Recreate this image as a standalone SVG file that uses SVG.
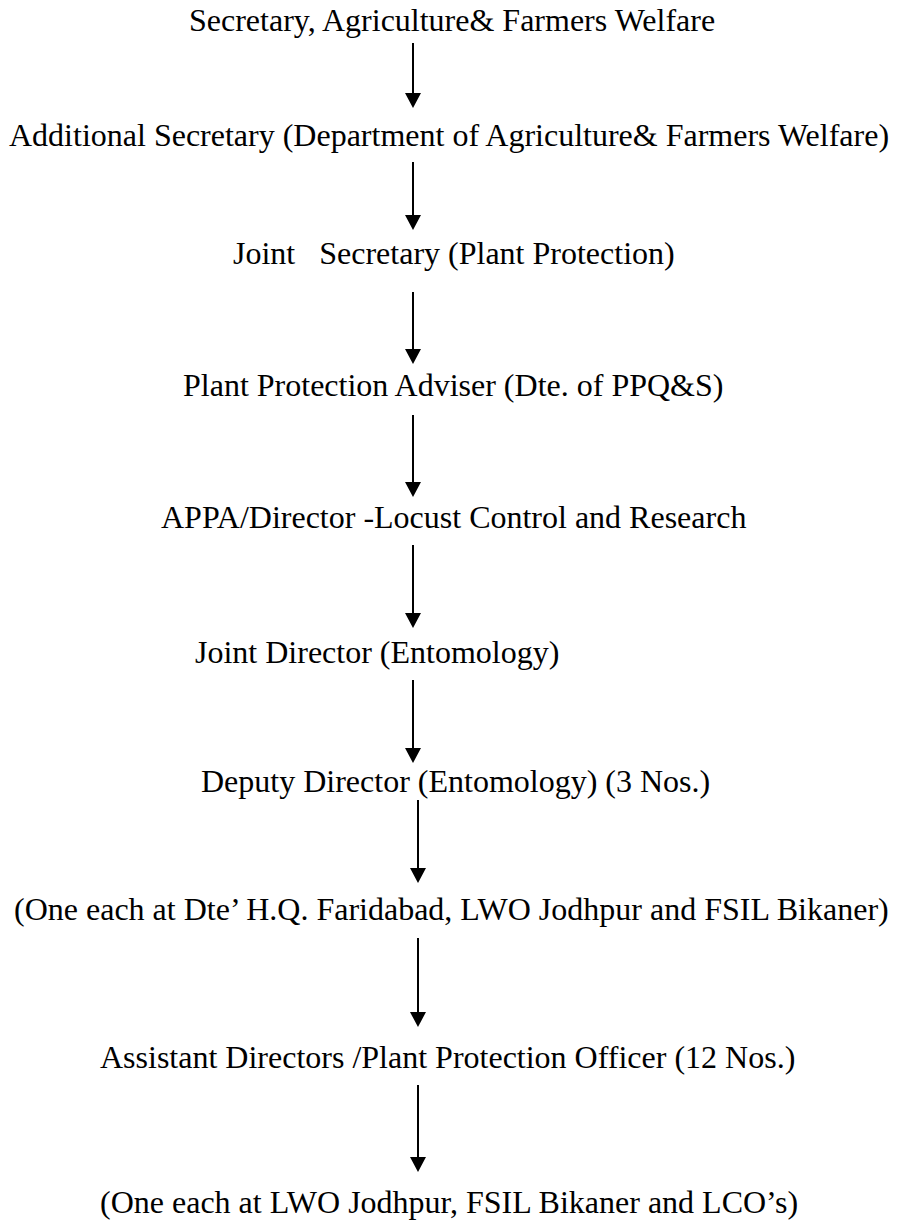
<svg xmlns="http://www.w3.org/2000/svg" width="902" height="1224" viewBox="0 0 902 1224">
<style>
  .t { font-family: "Liberation Serif", "Times New Roman", serif; font-size: 32px; fill: #000; white-space: pre; }
  .c line { stroke: #000; stroke-width: 2; }
</style>
<defs>
  <marker id="ah" markerUnits="userSpaceOnUse" markerWidth="16" markerHeight="16" refX="0" refY="8" orient="auto">
    <path d="M0,0 L15,8 L0,16 Z" fill="#000"/>
  </marker>
</defs>
<rect width="902" height="1224" fill="#fff"/>
<g id="n1"><text class="t" x="189" y="31">Secretary, Agriculture&amp; Farmers Welfare</text></g>
<g id="n2"><text class="t" x="9" y="146">Additional Secretary (Department of Agriculture&amp; Farmers Welfare)</text></g>
<g id="n3"><text class="t" x="233" y="264" xml:space="preserve">Joint   Secretary (Plant Protection)</text></g>
<g id="n4"><text class="t" x="183" y="396">Plant Protection Adviser (Dte. of PPQ&amp;S)</text></g>
<g id="n5"><text class="t" x="161" y="528">APPA/Director -Locust Control and Research</text></g>
<g id="n6"><text class="t" x="195" y="663">Joint Director (Entomology)</text></g>
<g id="n7"><text class="t" x="201" y="792">Deputy Director (Entomology) (3 Nos.)</text></g>
<g id="n8"><text class="t" x="14" y="920">(One each at Dte’ H.Q. Faridabad, LWO Jodhpur and FSIL Bikaner)</text></g>
<g id="n9"><text class="t" x="100" y="1068">Assistant Directors /Plant Protection Officer (12 Nos.)</text></g>
<g id="n10"><text class="t" x="100" y="1213">(One each at LWO Jodhpur, FSIL Bikaner and LCO’s)</text></g>
<g id="connectors" class="c">
  <line x1="413" y1="43" x2="413" y2="93" marker-end="url(#ah)"/>
  <line x1="413" y1="162" x2="413" y2="215" marker-end="url(#ah)"/>
  <line x1="413" y1="292" x2="413" y2="349" marker-end="url(#ah)"/>
  <line x1="413" y1="415" x2="413" y2="482" marker-end="url(#ah)"/>
  <line x1="413" y1="545" x2="413" y2="613" marker-end="url(#ah)"/>
  <line x1="413" y1="680" x2="413" y2="748" marker-end="url(#ah)"/>
  <line x1="418" y1="800" x2="418" y2="868" marker-end="url(#ah)"/>
  <line x1="418" y1="938" x2="418" y2="1012" marker-end="url(#ah)"/>
  <line x1="418" y1="1085" x2="418" y2="1157" marker-end="url(#ah)"/>
</g>
</svg>
